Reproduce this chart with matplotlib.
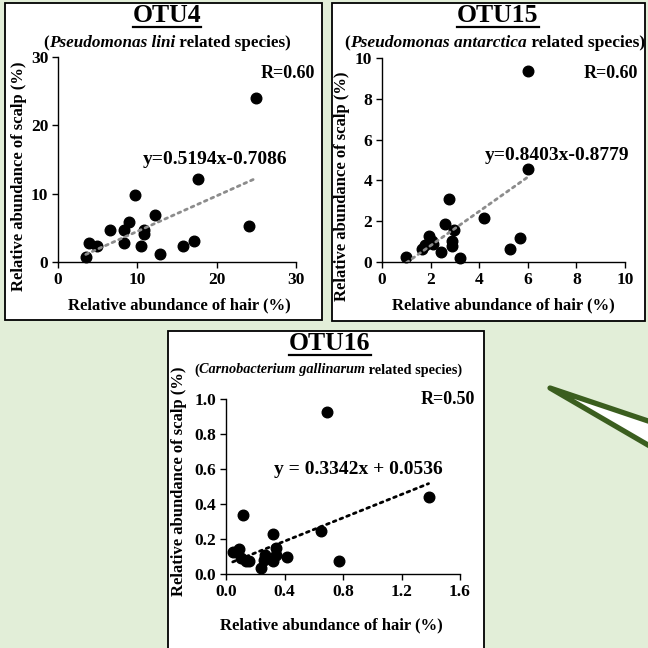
import matplotlib
matplotlib.use("Agg")
import numpy as np
import matplotlib.pyplot as plt
from matplotlib.patches import Rectangle, Polygon
from matplotlib.lines import Line2D
from matplotlib.ticker import FormatStrFormatter

# OTU4 (Pseudomonas lini)
otu4_hair = [3.5, 3.9, 4.9, 6.6, 8.3, 8.3, 9.0, 9.75, 10.4, 10.8, 10.8, 12.2, 12.8, 15.7, 17.1, 17.7, 24.1, 24.9]
otu4_scalp = [0.7, 2.85, 2.35, 4.7, 4.7, 2.85, 5.9, 9.75, 2.3, 4.7, 4.1, 6.9, 1.15, 2.35, 3.1, 12.1, 5.2, 24.0]

# OTU15 (Pseudomonas antarctica)
otu15_hair = [1.0, 1.66, 1.76, 1.93, 2.04, 2.1, 2.41, 2.59, 2.76, 2.89, 2.89, 2.98, 3.21, 4.21, 5.28, 5.69, 5.99, 5.99]
otu15_scalp = [0.25, 0.64, 0.85, 1.26, 1.01, 0.9, 0.49, 1.84, 3.09, 1.01, 0.8, 1.59, 0.21, 2.15, 0.64, 1.2, 4.58, 9.37]

# OTU16 (Carnobacterium gallinarum)
otu16_hair = [0.046, 0.09, 0.10, 0.116, 0.137, 0.16, 0.24, 0.26, 0.27, 0.32, 0.32, 0.34, 0.34, 0.42, 0.65, 0.69, 0.77, 1.385]
otu16_scalp = [0.124, 0.142, 0.091, 0.339, 0.072, 0.072, 0.034, 0.082, 0.11, 0.23, 0.072, 0.148, 0.11, 0.097, 0.248, 0.927, 0.072, 0.44]

W = H = 648
BG = "#e2eed8"
DARK_GREEN = "#3b5e1f"
FONT = "Liberation Serif"


def fx(px):
    return px / W


def fy(py):
    return 1 - py / H


def axes_rect(left, top, right, bottom):
    return [fx(left), fy(bottom), (right - left) / W, (bottom - top) / H]


def mixed_text(fig, cx, cy, parts, size):
    # draw pieces of bold text (some italic) centred on cx, cy (pixels)
    renderer = fig.canvas.get_renderer()
    items = []
    total = 0
    for s, st in parts:
        t = fig.text(0, fy(cy), s, fontsize=size, fontweight="bold", style=st,
                     family=FONT, ha="left", va="center")
        w = t.get_window_extent(renderer).width
        items.append((t, w))
        total += w
    x = cx - total / 2
    for t, w in items:
        t.set_x(fx(x))
        x += w


def title(fig, cx, cy, s, size=18.5):
    t = fig.text(fx(cx), fy(cy), s, fontsize=size, fontweight="bold",
                 family=FONT, ha="center", va="center")
    bb = t.get_window_extent(fig.canvas.get_renderer())
    yl = bb.y0 + 1
    fig.add_artist(Line2D([bb.x0 / W, bb.x1 / W], [yl / H, yl / H], color="black", lw=1.6))


def panel(fig, rect, xs, ys, slope, icept, lcolor, xlim, ylim, ticks_x, ticks_y, fmt,
          r_text, r_pos, eq_text, eq_pos, xlab_pos, ylab_pos):
    ax = fig.add_axes(rect)
    ax.set_facecolor("none")
    ax.scatter(xs, ys, s=58, color="black", zorder=2, clip_on=False)
    xl = np.array([min(xs), max(xs)])
    ax.plot(xl, slope * xl + icept, linestyle=(0, (1, 1.6)), color=lcolor, lw=2.0,
            zorder=3, dash_capstyle="round")
    ax.set_xlim(*xlim)
    ax.set_ylim(*ylim)
    ax.set_xticks(ticks_x)
    ax.set_yticks(ticks_y)
    ax.xaxis.set_major_formatter(FormatStrFormatter(fmt))
    ax.yaxis.set_major_formatter(FormatStrFormatter(fmt))
    for sp in ["top", "right"]:
        ax.spines[sp].set_visible(False)
    for sp in ["left", "bottom"]:
        ax.spines[sp].set_linewidth(1.0)
    ax.tick_params(direction="out", length=4, width=1.0, labelsize=12.5, pad=3)
    for lab in ax.get_xticklabels() + ax.get_yticklabels():
        lab.set_fontweight("bold")
        lab.set_family(FONT)
    ax.set_xlabel("Relative abundance of hair (%)", fontsize=12, fontweight="bold", family=FONT)
    ax.set_ylabel("Relative abundance of scalp (%)", fontsize=12, fontweight="bold", family=FONT)
    ax.xaxis.set_label_coords(*xlab_pos)
    ax.yaxis.set_label_coords(*ylab_pos)
    fig.text(fx(r_pos[0]), fy(r_pos[1]), r_text, fontsize=13, fontweight="bold",
             family=FONT, ha="right", va="center")
    fig.text(fx(eq_pos[0]), fy(eq_pos[1]), eq_text, fontsize=14, fontweight="bold",
             family=FONT, ha="center", va="center")
    return ax


fig = plt.figure(figsize=(6.48, 6.48), dpi=100, facecolor=BG)

# arrow-like wedge on the right
fig.add_artist(Polygon([(fx(550), fy(388)), (fx(660), fy(425)), (fx(660), fy(452))],
                       closed=True, facecolor="white", edgecolor=DARK_GREEN, lw=3.8,
                       joinstyle="round", zorder=-2))

# white panel boxes, kept under the axes
for x0, y0, x1, y1 in [(5, 3, 322, 320), (332, 3, 645, 321), (168, 331, 484, 660)]:
    fig.add_artist(Rectangle((fx(x0), fy(y1)), (x1 - x0) / W, (y1 - y0) / H,
                             facecolor="white", edgecolor="black", lw=1.3, zorder=-1))

panel(fig, axes_rect(58, 57, 296, 262), otu4_hair, otu4_scalp, 0.5194, -0.7086, "#8c8c8c",
      (0, 30), (0, 30), [0, 10, 20, 30], [0, 10, 20, 30], "%d",
      "R=0.60", (315, 73), "y=0.5194x-0.7086", (215, 160), (0.51, -0.175), (-0.13, 0.42))

panel(fig, axes_rect(382, 58, 625, 262), otu15_hair, otu15_scalp, 0.8403, -0.8779, "#8c8c8c",
      (0, 10), (0, 10), [0, 2, 4, 6, 8, 10], [0, 2, 4, 6, 8, 10], "%d",
      "R=0.60", (638, 73), "y=0.8403x-0.8779", (557, 155), (0.50, -0.175), (-0.13, 0.37))

panel(fig, axes_rect(226, 399, 460, 574), otu16_hair, otu16_scalp, 0.3342, 0.0536, "black",
      (0, 1.6), (0, 1.0), [0, 0.4, 0.8, 1.2, 1.6], [0, 0.2, 0.4, 0.6, 0.8, 1.0], "%.1f",
      "R=0.50", (475, 400), "y = 0.3342x + 0.0536", (358, 470), (0.45, -0.25), (-0.167, 0.53))

title(fig, 167, 16, "OTU4")
title(fig, 498, 16, "OTU15")
title(fig, 330, 344, "OTU16")

mixed_text(fig, 167, 43, [("(", "normal"), ("Pseudomonas lini", "italic"),
                          (" related species)", "normal")], 12.3)
mixed_text(fig, 495, 43, [("(", "normal"), ("Pseudomonas antarctica", "italic"),
                          (" related species)", "normal")], 12.5)
mixed_text(fig, 328, 370, [("(", "normal"), ("Carnobacterium gallinarum", "italic"),
                           (" related species)", "normal")], 10.3)

fig.savefig("out.png", dpi=100, facecolor=BG)
